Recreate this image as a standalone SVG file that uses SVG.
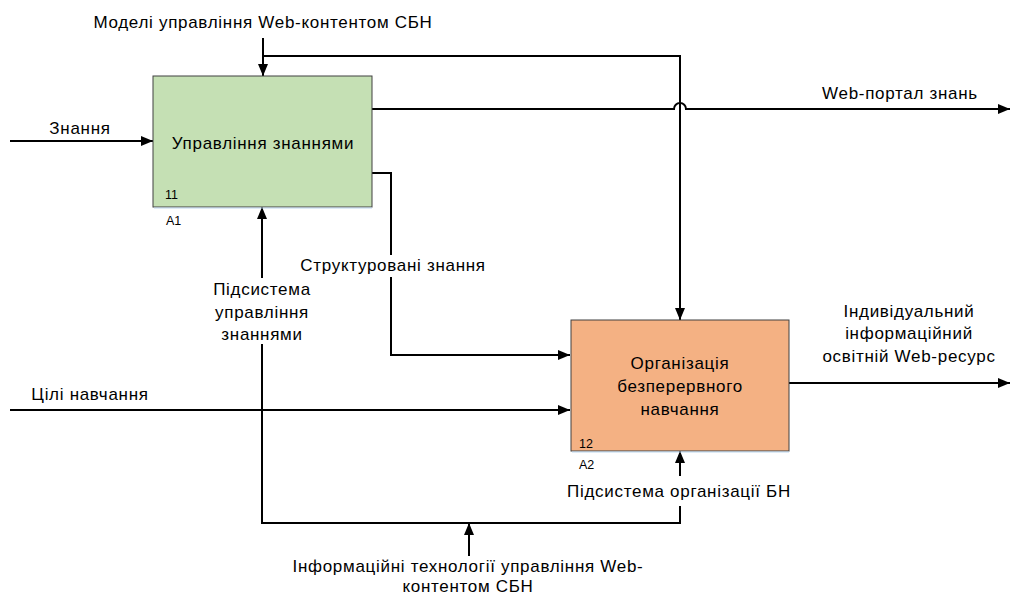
<svg xmlns="http://www.w3.org/2000/svg" width="1012" height="595" viewBox="0 0 1012 595">
<style>
.t{font-family:"Liberation Sans",Arial,sans-serif;font-size:17px;letter-spacing:0.7px;fill:#000}
.s{font-family:"Liberation Sans",Arial,sans-serif;font-size:12.5px;fill:#000}
.c{stroke:#000;stroke-width:2;fill:none}
.box{stroke:#404040;stroke-width:1}
</style>
<defs>
<marker id="ar" markerWidth="12" markerHeight="10" refX="12" refY="5" orient="auto" markerUnits="userSpaceOnUse">
<path d="M0,0 L12,5 L0,10 Z" fill="#000"/>
</marker>
</defs>
<rect width="1012" height="595" fill="#fff"/>
<g id="connectors">
<path class="c" d="M263,38 V76" marker-end="url(#ar)"/>
<path class="c" d="M263,56 H680 V320" marker-end="url(#ar)"/>
<path class="c" d="M372,109 H674 A6,6 0 0 1 686,109 H1010" marker-end="url(#ar)"/>
<path class="c" d="M372,173 H391 V255"/>
<path class="c" d="M391,277 V355 H570" marker-end="url(#ar)"/>
<path class="c" d="M10,141 H153" marker-end="url(#ar)"/>
<path class="c" d="M10,410 H570" marker-end="url(#ar)"/>
<path class="c" d="M789,383 H1010" marker-end="url(#ar)"/>
<path class="c" d="M262,278 V207" marker-end="url(#ar)"/>
<path class="c" d="M262,344 V523 H680 V506"/>
<path class="c" d="M680,476 V451" marker-end="url(#ar)"/>
<path class="c" d="M469,556 V523" marker-end="url(#ar)"/>
</g>
<g id="node-a1">
<rect x="153" y="76" width="219" height="131" fill="#c5e0b4" class="box"/>
<line x1="154" y1="208" x2="372" y2="208" stroke="#bdd7ee" stroke-width="1"/>
<text class="t" x="263" y="149" text-anchor="middle">Управління знаннями</text>
<text class="s" x="165" y="199">11</text>
<text class="s" x="166" y="225">A1</text>
</g>
<g id="node-a2">
<rect x="571" y="320" width="218" height="131" fill="#f4b183" class="box"/>
<line x1="572" y1="452" x2="789" y2="452" stroke="#bdd7ee" stroke-width="1"/>
<text class="t" x="680" y="369" text-anchor="middle">Організація</text>
<text class="t" x="680" y="392" text-anchor="middle">безперервного</text>
<text class="t" x="680" y="415" text-anchor="middle">навчання</text>
<text class="s" x="579" y="448">12</text>
<text class="s" x="579" y="469">A2</text>
</g>
<g id="labels">
<text class="t" x="263" y="28" text-anchor="middle">Моделі управління Web-контентом СБН</text>
<text class="t" x="900" y="99" text-anchor="middle">Web-портал знань</text>
<text class="t" x="80" y="134" text-anchor="middle">Знання</text>
<text class="t" x="90" y="400" text-anchor="middle">Цілі навчання</text>
<text class="t" x="393" y="271" text-anchor="middle">Структуровані знання</text>
<text class="t" x="262" y="295" text-anchor="middle">Підсистема</text>
<text class="t" x="262" y="318" text-anchor="middle">управління</text>
<text class="t" x="262" y="340" text-anchor="middle">знаннями</text>
<text class="t" x="909" y="317" text-anchor="middle">Індивідуальний</text>
<text class="t" x="909" y="339" text-anchor="middle">інформаційний</text>
<text class="t" x="909" y="362" text-anchor="middle">освітній Web-ресурс</text>
<text class="t" x="679" y="497" text-anchor="middle">Підсистема організації БН</text>
<text class="t" x="468" y="572" text-anchor="middle">Інформаційні технології управління Web-</text>
<text class="t" x="468" y="592" text-anchor="middle">контентом СБН</text>
</g>
</svg>
